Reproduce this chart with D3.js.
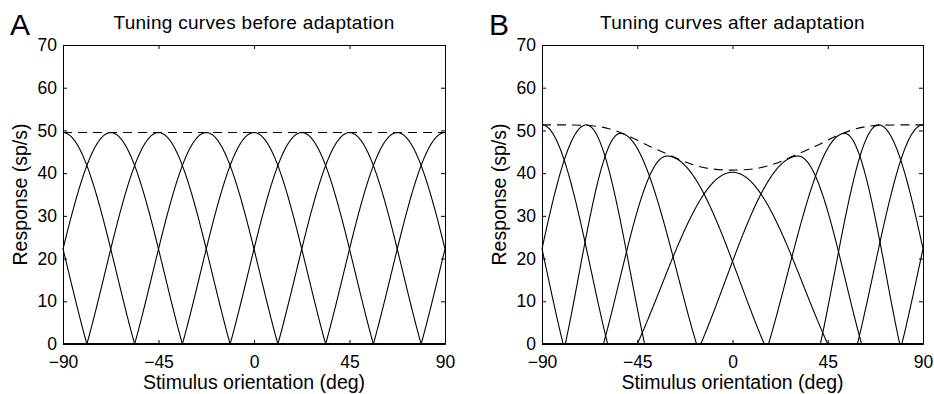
<!DOCTYPE html>
<html>
<head>
<meta charset="utf-8">
<script src="https://cdn.jsdelivr.net/npm/d3@7"></script>
<style>
  body { margin: 0; background: #fff; }
  svg { display: block; }
  text { font-family: "Liberation Sans", Arial, Helvetica, sans-serif; fill: #000; }
</style>
</head>
<body>
<svg width="934" height="394"></svg>
<script>
const width = 934, height = 394;
const svg = d3.select("svg");

// tick labels
const xTicks = [-90, -45, 0, 45, 90];
const yTicks = [0, 10, 20, 30, 40, 50, 60, 70];

// panel A: tuning curves before adaptation (preferred ori, peak rate, zero half-widths)
const prefsA = [-90, -67.5, -45, -22.5, 0, 22.5, 45, 67.5];
const peaksA = [49.5, 49.5, 49.5, 49.5, 49.5, 49.5, 49.5, 49.5];
const widthLA = [33.75, 33.75, 33.75, 33.75, 33.75, 33.75, 33.75, 33.75];
const widthRA = [33.75, 33.75, 33.75, 33.75, 33.75, 33.75, 33.75, 33.75];
const envA = [[-90, 49.5], [90, 49.5]];

// panel B: tuning curves after adaptation at 0 deg
const prefsB = [-90, -69, -53, -31, 0, 31, 53, 69];
const peaksB = [51.3, 51.3, 49.3, 44.0, 40.2, 44.0, 49.3, 51.3];
const widthLB = [31, 31, 26, 30, 45, 46, 36, 27.5];
const widthRB = [31, 27.5, 36, 46, 45, 30, 26, 31];
const envBx = [-90, -80, -70, -60, -50, -40, -30, -20, -10, 0, 10, 20, 30, 40, 50, 60, 70, 80, 90];
const envBy = [51.3, 51.3, 51.2, 50.6, 48.9, 46.5, 44.3, 42.2, 41.0, 40.7, 41.0, 42.2, 44.3, 46.5, 48.9, 50.6, 51.2, 51.3, 51.3];

const plotTop = 45, plotBottom = 344;

// rectified cosine-like tuning profile, u = distance / half-width
const shape = u => Math.abs(u) >= 1 ? 0 : (Math.cos(2 * Math.PI / 3 * u) + 0.5) / 1.5;

function response(theta, p, h, wl, wr) {
    let d = ((theta - p + 90) % 180 + 180) % 180 - 90;
    return h * shape(d < 0 ? d / wl : d / wr);
}

function drawPanel(x0, x1, letter, title, prefs, peaks, wls, wrs, env) {
    const g = svg.append("g");
    const x = d3.scaleLinear().domain([-90, 90]).range([x0, x1]);
    const y = d3.scaleLinear().domain([0, 70]).range([plotBottom, plotTop]);

    const thetas = d3.range(-90, 90.001, 0.25);
    const line = d3.line().x(d => x(d[0])).y(d => y(d[1]));

    prefs.forEach((p, i) => {
        const pts = thetas.map(t => [t, response(t, p, peaks[i], wls[i], wrs[i])]);
        g.append("path")
            .attr("d", line(pts))
            .attr("fill", "none")
            .attr("stroke", "#000")
            .attr("stroke-width", 1.1);
    });

    g.append("path")
        .attr("d", d3.line().x(d => x(d[0])).y(d => y(d[1])).curve(d3.curveMonotoneX)(env))
        .attr("fill", "none")
        .attr("stroke", "#000")
        .attr("stroke-width", 1.1)
        .attr("stroke-dasharray", "9,6");

    // box with inward ticks on all sides
    const tick = 4;
    g.append("g").attr("transform", `translate(0,${plotBottom})`)
        .call(d3.axisBottom(x).tickValues(xTicks).tickSizeInner(-tick).tickSizeOuter(0).tickPadding(12))
        .call(a => a.selectAll("text").attr("font-size", "17.5px").attr("dy", "0.71em"));
    g.append("g").attr("transform", `translate(0,${plotTop})`)
        .call(d3.axisTop(x).tickValues(xTicks).tickSizeInner(-tick).tickSizeOuter(0).tickFormat(""));
    g.append("g").attr("transform", `translate(${x0},0)`)
        .call(d3.axisLeft(y).tickValues(yTicks).tickSizeInner(-tick).tickSizeOuter(0).tickPadding(6))
        .call(a => a.selectAll("text").attr("font-size", "17.5px"));
    g.append("g").attr("transform", `translate(${x1},0)`)
        .call(d3.axisRight(y).tickValues(yTicks).tickSizeInner(-tick).tickSizeOuter(0).tickFormat(""));
    g.selectAll(".domain, .tick line").attr("stroke", "#000").attr("stroke-width", 1);
    g.selectAll(".tick text").attr("fill", "#000").style("font-family", '"Liberation Sans", Arial, sans-serif');

    g.append("text")
        .attr("x", (x0 + x1) / 2).attr("y", 29)
        .attr("text-anchor", "middle").attr("font-size", "19px")
        .attr("letter-spacing", "0.3px")
        .text(title);
    g.append("text")
        .attr("x", (x0 + x1) / 2).attr("y", 389)
        .attr("text-anchor", "middle").attr("font-size", "19.5px")
        .text("Stimulus orientation (deg)");
    g.append("text")
        .attr("transform", `translate(${x0 - 36},${(plotTop + plotBottom) / 2}) rotate(-90)`)
        .attr("text-anchor", "middle").attr("font-size", "19.5px")
        .text("Response (sp/s)");
    g.append("text")
        .attr("x", x0 - 53).attr("y", 35)
        .attr("font-size", "30px")
        .text(letter);
}

drawPanel(63, 445, "A", "Tuning curves before adaptation", prefsA, peaksA, widthLA, widthRA, envA);
drawPanel(542, 923, "B", "Tuning curves after adaptation", prefsB, peaksB, widthLB, widthRB,
    envBx.map((v, i) => [v, envBy[i]]));
</script>
</body>
</html>
